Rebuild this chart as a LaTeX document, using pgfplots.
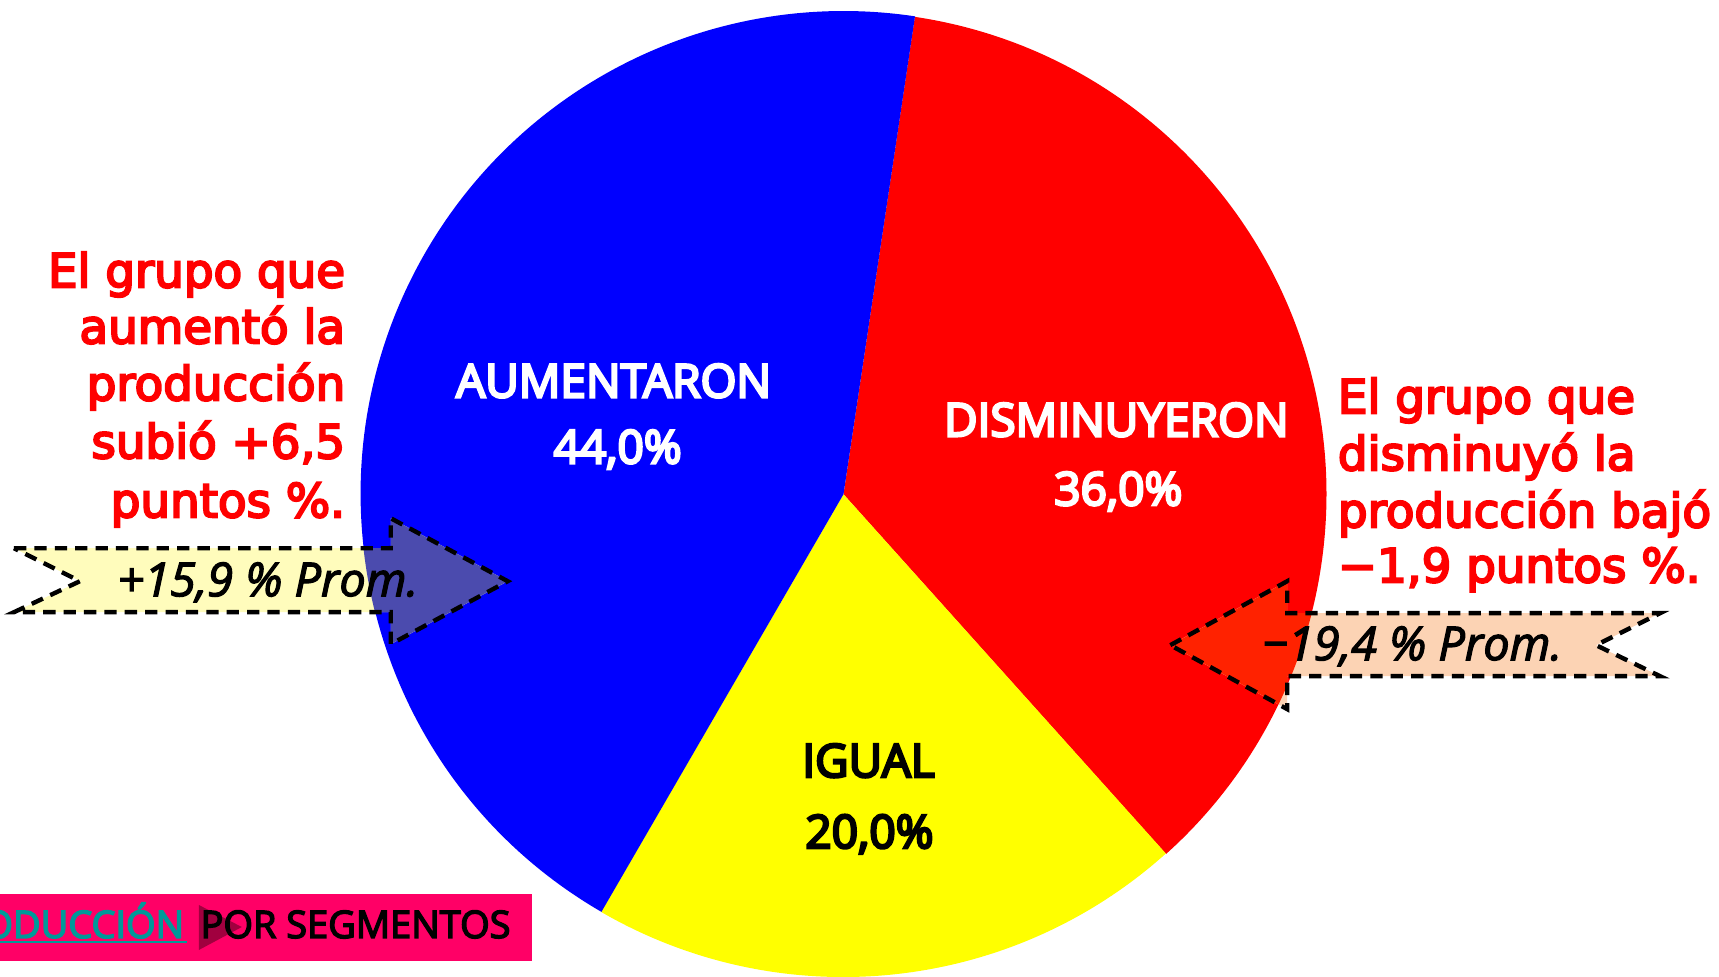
\documentclass[border=0pt]{standalone}
\usepackage{pgfplots}
\pgfplotsset{compat=1.18}
\usepackage{pgfplotstable}
\usepackage{fontspec}
\setmainfont{Open Sans}
\newfontfamily\dejavu{DejaVu Sans}
\newfontfamily\promfont{Open Sans Italic}
\newcommand\emb[2]{\special{pdf:literal direct 2 Tr #1 w}#2\special{pdf:literal direct 0 Tr}}
\definecolor{pieblue}{HTML}{0000FF}
\definecolor{piered}{HTML}{FF0000}
\definecolor{pieyellow}{HTML}{FFFF00}
\definecolor{arrowyel}{HTML}{FFFCBC}
\definecolor{arrowyelonblue}{HTML}{4B4BAE}
\definecolor{arrowpeach}{HTML}{FCD3B4}
\definecolor{arrowpeachonred}{HTML}{FF2200}
\definecolor{boxmag}{HTML}{FF0066}
\definecolor{linkteal}{HTML}{009999}
\definecolor{tridark}{HTML}{8A0036}

\pgfplotstableread{
label value
DISMINUYERON 36.0
IGUAL 20.0
AUMENTARON 44.0
}\piedata
\pgfplotstablegetelem{0}{value}\of\piedata \edef\vDis{\pgfplotsretval}
\pgfplotstablegetelem{1}{value}\of\piedata \edef\vIgu{\pgfplotsretval}
\pgfplotstablegetelem{2}{value}\of\piedata \edef\vAum{\pgfplotsretval}
\pgfmathsetmacro\aS{81.5}
\pgfmathsetmacro\aA{\aS-3.6*\vDis}
\pgfmathsetmacro\aB{\aA-3.6*\vIgu}
\pgfmathsetmacro\aC{\aB-3.6*\vAum}
\def\cx{844}\def\cy{483}\def\R{483}
\pgfkeys{/pgf/number format/.cd, fixed, fixed zerofill, precision=1, use comma, assume math mode=true}
\tikzset{redtxt/.style={inner sep=0, text=piered, font=\dejavu\fontsize{13.3pt}{16pt}\selectfont},
  lbl/.style={inner sep=0, anchor=base, font=\fontsize{13.1pt}{15pt}\selectfont},
  prom/.style={inner sep=0, anchor=base, font=\promfont\fontsize{13.3pt}{15pt}\selectfont},
  boxtxt/.style={inner sep=0, font=\fontsize{10.8pt}{12pt}\selectfont}}

\begin{document}
\begin{tikzpicture}
\begin{axis}[anchor=origin, at={(0,0)}, x=0.01cm, y=0.01cm,
  xmin=0, xmax=1719, ymin=0, ymax=977, hide axis, clip=false]
% pie slices
\fill[piered] (axis cs:\cx,\cy) -- (axis cs:{\cx+\R*cos(\aS)},{\cy+\R*sin(\aS)}) arc[start angle=\aS, end angle=\aA, radius=4.83cm] -- cycle;
\fill[pieyellow] (axis cs:\cx,\cy) -- (axis cs:{\cx+\R*cos(\aA)},{\cy+\R*sin(\aA)}) arc[start angle=\aA, end angle=\aB, radius=4.83cm] -- cycle;
\fill[pieblue] (axis cs:\cx,\cy) -- (axis cs:{\cx+\R*cos(\aB)},{\cy+\R*sin(\aB)}) arc[start angle=\aB, end angle=\aC, radius=4.83cm] -- cycle;
% slice labels
\node[lbl, text=white] at (axis cs:614,580) {\emb{0.7}{AUMENTARON}};
\node[lbl, text=white] at (axis cs:618,514) {\emb{0.7}{\pgfmathprintnumber{\vAum}\%}};
\node[lbl, text=white] at (axis cs:1117,541) {\emb{0.7}{DISMINUYERON}};
\node[lbl, text=white] at (axis cs:1119,472) {\emb{0.7}{\pgfmathprintnumber{\vDis}\%}};
\node[lbl, text=black] at (axis cs:869,200) {\emb{0.7}{IGUAL}};
\node[lbl, text=black] at (axis cs:870,129) {\emb{0.7}{\pgfmathprintnumber{\vIgu}\%}};
% left arrow
\fill[arrowyel] (axis cs:14,429) -- (axis cs:391,429) -- (axis cs:391,459) -- (axis cs:508,396) -- (axis cs:391,333) -- (axis cs:391,365) -- (axis cs:14,365) -- (axis cs:80,396) -- cycle;
\begin{scope}
\clip (axis cs:\cx,\cy) circle[radius=4.83cm];
\fill[arrowyelonblue] (axis cs:14,429) -- (axis cs:391,429) -- (axis cs:391,459) -- (axis cs:508,396) -- (axis cs:391,333) -- (axis cs:391,365) -- (axis cs:14,365) -- (axis cs:80,396) -- cycle;
\end{scope}
\draw[black, line width=1.25pt, dash pattern=on 3.5pt off 2.3pt] (axis cs:14,429) -- (axis cs:391,429) -- (axis cs:391,459) -- (axis cs:508,396) -- (axis cs:391,333) -- (axis cs:391,365) -- (axis cs:14,365) -- (axis cs:80,396) -- cycle;
\node[prom] at (axis cs:268,381) {\emb{0.35}{+15,9 \% Prom.}};
% right arrow
\fill[arrowpeach] (axis cs:1171,332) -- (axis cs:1288,396) -- (axis cs:1288,364) -- (axis cs:1661,364) -- (axis cs:1597,332) -- (axis cs:1661,301) -- (axis cs:1288,301) -- (axis cs:1288,268) -- cycle;
\begin{scope}
\clip (axis cs:\cx,\cy) circle[radius=4.83cm];
\fill[arrowpeachonred] (axis cs:1171,332) -- (axis cs:1288,396) -- (axis cs:1288,364) -- (axis cs:1661,364) -- (axis cs:1597,332) -- (axis cs:1661,301) -- (axis cs:1288,301) -- (axis cs:1288,268) -- cycle;
\end{scope}
\draw[black, line width=1.25pt, dash pattern=on 3.5pt off 2.3pt] (axis cs:1171,332) -- (axis cs:1288,396) -- (axis cs:1288,364) -- (axis cs:1661,364) -- (axis cs:1597,332) -- (axis cs:1661,301) -- (axis cs:1288,301) -- (axis cs:1288,268) -- cycle;
\node[prom] at (axis cs:1413,317) {\emb{0.35}{−19,4 \% Prom.}};
% left red text
\node[redtxt, anchor=base east] at (axis cs:346,690) {\emb{0.6}{El grupo que}};
\node[redtxt, anchor=base east] at (axis cs:346,634) {\emb{0.6}{aumentó la}};
\node[redtxt, anchor=base east] at (axis cs:346,577) {\emb{0.6}{producción}};
\node[redtxt, anchor=base east] at (axis cs:346,519) {\emb{0.6}{subió +6,5}};
\node[redtxt, anchor=base east] at (axis cs:346,460) {\emb{0.6}{puntos \%.}};
% right red text
\node[redtxt, anchor=base west] at (axis cs:1338,564) {\emb{0.6}{El grupo que}};
\node[redtxt, anchor=base west] at (axis cs:1338,507) {\emb{0.6}{disminuyó la}};
\node[redtxt, anchor=base west] at (axis cs:1338,450) {\emb{0.6}{producción bajó}};
\node[redtxt, anchor=base west] at (axis cs:1338,395) {\emb{0.6}{−1,9 puntos \%.}};
% bottom box
\fill[boxmag] (axis cs:-5,16) rectangle (axis cs:532,83);
\node[boxtxt, anchor=base east, text=linkteal] at (axis cs:185,39) {\emb{0.4}{PRODUCCIÓN}};
\fill[linkteal] (axis cs:-5,34) rectangle (axis cs:187,36);
\fill[tridark, opacity=0.8] (axis cs:199,72) -- (axis cs:199,27) -- (axis cs:242,50) -- cycle;
\node[boxtxt, anchor=base west, text=black] at (axis cs:200,39) {\emb{0.4}{POR SEGMENTOS}};
\end{axis}
\pgfresetboundingbox
\path[use as bounding box] (0,0) rectangle (17.19cm,9.77cm);
\end{tikzpicture}
\end{document}
